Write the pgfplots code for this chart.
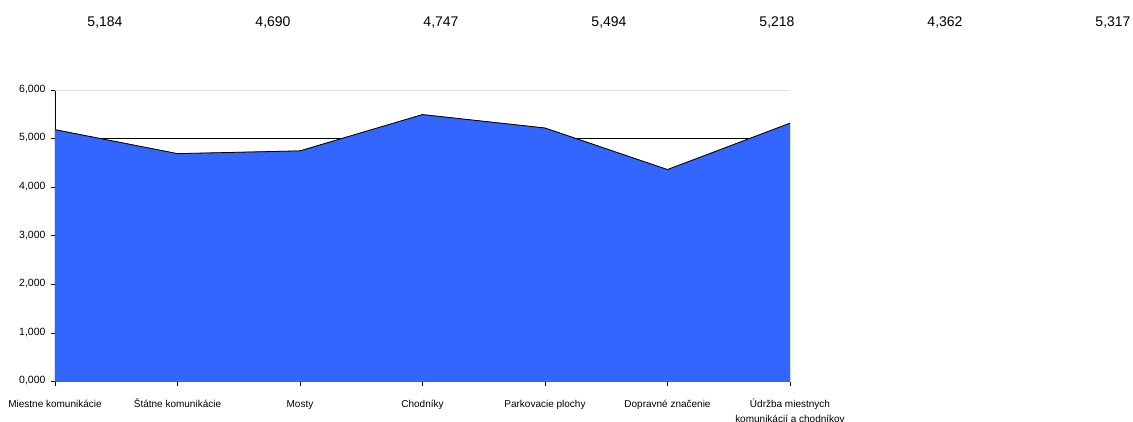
\documentclass[border=0pt]{standalone}
\usepackage{pgfplots}
\pgfplotsset{compat=1.18}
\usepackage{fontspec}
\setmainfont{Liberation Sans}
\definecolor{areablue}{HTML}{3366FF}
\begin{document}
\begin{tikzpicture}[x=1pt,y=1pt]
\useasboundingbox (0,0) rectangle (1133,421);
\begin{axis}[
  at={(55pt,39.5pt)}, anchor=south west,
  scale only axis, width=735pt, height=291.5pt,
  xmin=0, xmax=6, ymin=0, ymax=6,
  axis x line*=bottom, axis y line*=left,
  axis line style={black, line width=0.8pt},
  xtick={0,...,6},
  xticklabels={Miestne komunikácie, Štátne komunikácie, Mosty, Chodníky, Parkovacie plochy, Dopravné značenie, {Údržba miestnych\\komunikácií a chodníkov}},
  typeset ticklabels with strut,
  xticklabel style={font=\fontsize{10}{15}\selectfont, align=center, yshift=-8pt},
  ytick={0,1,2,3,4,5},
  extra y ticks={6},
  extra y tick style={grid style={black!12, line width=1pt}},
  yticklabel style={/pgf/number format/fixed, /pgf/number format/fixed zerofill, /pgf/number format/precision=3, /pgf/number format/use comma, /pgf/number format/assume math mode=true, font=\fontsize{10.5}{12}\selectfont, xshift=-2pt},
  ymajorgrids, grid style={black, line width=0.7pt},
  tick align=outside, major tick length=4pt, tick style={black, line width=0.6pt},
]
\addplot[fill=areablue, draw=black!60, line width=0.6pt] coordinates {
  (0,5.184) (1,4.690) (2,4.747) (3,5.494) (4,5.218) (5,4.362) (6,5.317)
} \closedcycle;
\addplot[black, line width=0.8pt] coordinates {
  (0,5.184) (1,4.690) (2,4.747) (3,5.494) (4,5.218) (5,4.362) (6,5.317)
};
\end{axis}
\foreach \xx/\lab in {105/{5,184}, 273/{4,690}, 441/{4,747}, 609/{5,494}, 777/{5,218}, 945/{4,362}, 1113/{5,317}}
  \node[font=\fontsize{14}{16}\selectfont, inner sep=0pt] at (\xx,398) {\lab};
\end{tikzpicture}
\end{document}
